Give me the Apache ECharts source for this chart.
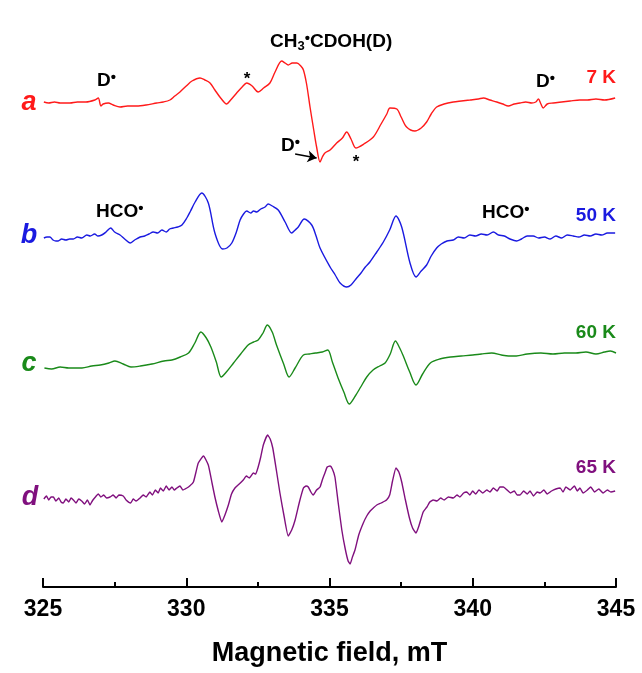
<!DOCTYPE html>
<html>
<head>
<meta charset="utf-8">
<script src="https://cdn.jsdelivr.net/npm/echarts@6/dist/echarts.min.js"></script>
<style>
  html, body { margin: 0; padding: 0; background: #fff; }
  #chart { width: 642px; height: 673px; }
</style>
</head>
<body>
<div id="chart"></div>
<script>
// spectra: [field mT, signal (arb. units, 1 = 1px)]
var trace7K = [
  [325.03,0],[325.2,-1],[325.4,0],[325.6,-1],[325.94,-1],[326.2,0],[326.5,0],[326.81,2],[326.93,4],[327.02,-4],
  [327.1,-2],[327.28,-1],[327.45,-3],[327.69,-5],[327.95,-4],[328.27,-4],[328.6,-3],[328.97,-1],[329.2,0],[329.43,2],
  [329.6,6],[329.78,10],[330.0,16],[330.2,21],[330.48,24],[330.65,22],[330.83,19],[331.0,12],[331.2,4],[331.41,-2],
  [331.55,2],[331.76,9],[331.95,15],[332.11,19],[332.3,16],[332.51,10],[332.7,14],[332.92,19],[333.1,30],[333.33,41],
  [333.45,39],[333.56,37],[333.7,39],[333.86,39],[334.0,36],[334.09,32],[334.2,18],[334.32,-5],[334.45,-28],[334.55,-45],
  [334.67,-60],[334.75,-55],[334.84,-51],[335.02,-48],[335.25,-41],[335.45,-36],[335.6,-30],[335.75,-37],[335.92,-46],[336.2,-42],
  [336.53,-35],[336.8,-22],[337.0,-12],[337.11,-6],[337.35,-7],[337.5,-15],[337.69,-25],[337.98,-29],[338.2,-26],[338.39,-20],
  [338.55,-12],[338.74,-5],[339.0,-2],[339.32,0],[339.6,1],[339.9,2],[340.2,3],[340.37,4],[340.6,2],[340.84,0],
  [341.05,-2],[341.24,-4],[341.45,-2],[341.65,-1],[341.85,0],[342.06,-1],[342.2,0],[342.29,3],[342.38,-2],[342.46,-6],
  [342.6,-2],[342.81,-1],[343.1,0],[343.4,1],[343.74,2],[344.0,2],[344.3,3],[344.6,2],[344.97,4]
];
var trace50K = [
  [325.03,0],[325.14,1],[325.24,1],[325.35,-2],[325.45,-3],[325.53,-3],[325.65,-1],[325.8,-2],[325.93,-1],[326.06,-1],
  [326.2,1],[326.35,0],[326.53,3],[326.65,2],[326.8,4],[326.92,2],[327.05,3],[327.2,6],[327.36,10],[327.5,6],
  [327.69,3],[327.85,-1],[328.04,-5],[328.2,-2],[328.39,1],[328.55,2],[328.7,4],[328.85,6],[329.0,5],[329.15,8],
  [329.3,6],[329.42,9],[329.55,10],[329.7,11],[329.85,13],[330.02,20],[330.15,27],[330.31,36],[330.54,45],[330.77,35],
  [331.0,5],[331.27,-11],[331.42,-10],[331.59,-5],[331.75,6],[331.88,18],[332.0,24],[332.11,27],[332.25,25],[332.35,27],
  [332.46,26],[332.6,29],[332.75,31],[332.86,34],[333.0,32],[333.21,28],[333.45,16],[333.68,5],[333.8,8],[333.91,11],
  [334.12,19],[334.38,13],[334.52,3],[334.67,-10],[335.02,-29],[335.2,-37],[335.37,-45],[335.6,-49],[335.75,-47],[335.95,-40],
  [336.1,-35],[336.25,-29],[336.41,-24],[336.65,-14],[336.88,-4],[337.1,8],[337.32,22],[337.52,11],[337.81,-25],[338.02,-39],
  [338.2,-33],[338.39,-27],[338.55,-18],[338.74,-10],[338.9,-6],[339.1,-3],[339.32,-2],[339.5,1],[339.7,0],[339.9,3],
  [340.1,2],[340.3,4],[340.5,3],[340.72,6],[340.9,3],[341.1,2],[341.3,-1],[341.53,-3],[341.7,-1],[341.9,2],
  [342.11,2],[342.3,0],[342.5,1],[342.7,-1],[342.9,2],[343.1,0],[343.3,3],[343.51,2],[343.7,1],[343.9,3],
  [344.1,2],[344.3,4],[344.5,3],[344.7,5],[344.97,5]
];
var trace60K = [
  [325.05,0],[325.3,-1],[325.6,1],[325.9,0],[326.36,0],[326.7,2],[327.0,3],[327.3,5],[327.51,7],[327.8,4],
  [328.07,1],[328.4,2],[328.8,4],[329.22,7],[329.5,8],[329.79,11],[330.08,15],[330.3,25],[330.51,36],[330.7,30],
  [330.86,21],[331.05,6],[331.22,-9],[331.4,-4],[331.65,5],[331.9,14],[332.16,23],[332.35,26],[332.51,28],[332.68,35],
  [332.83,43],[333.0,36],[333.15,23],[333.4,4],[333.59,-9],[333.8,0],[334.09,13],[334.3,14],[334.51,15],[334.75,16],
  [334.94,18],[335.1,6],[335.3,-10],[335.5,-24],[335.69,-36],[335.9,-28],[336.09,-19],[336.3,-9],[336.52,-2],[336.75,2],
  [336.94,5],[337.12,14],[337.3,27],[337.45,20],[337.59,11],[337.8,-4],[338.02,-17],[338.25,-6],[338.52,5],[338.85,9],
  [339.23,11],[339.6,12],[340.0,13],[340.3,14],[340.66,15],[341.0,13],[341.25,12],[341.52,12],[341.9,14],[342.38,15],
  [342.8,14],[343.2,15],[343.6,15],[343.95,16],[344.3,14],[344.6,16],[344.8,17],[345.0,15]
];
var trace65K = [
  [325.03,0],[325.12,3],[325.2,-1],[325.28,2],[325.36,2],[325.45,-2],[325.55,1],[325.63,-3],[325.71,-4],[325.8,0],
  [325.9,-3],[325.98,1],[326.06,-1],[326.15,-4],[326.25,0],[326.35,-2],[326.45,-5],[326.55,-1],[326.64,-6],[326.72,-2],
  [326.8,1],[326.93,5],[327.02,2],[327.12,4],[327.22,1],[327.34,2],[327.45,4],[327.55,1],[327.65,4],[327.8,3],
  [327.9,-1],[328.06,-4],[328.15,0],[328.25,-2],[328.39,1],[328.5,4],[328.6,2],[328.73,7],[328.82,4],[328.92,9],
  [329.02,6],[329.1,11],[329.2,8],[329.3,13],[329.4,9],[329.5,12],[329.58,9],[329.67,11],[329.78,13],[329.88,9],
  [330.02,11],[330.12,13],[330.25,17],[330.34,27],[330.42,36],[330.6,43],[330.77,34],[330.9,16],[331.0,2],[331.12,-12],
  [331.24,-23],[331.35,-16],[331.47,-6],[331.58,5],[331.7,11],[331.85,15],[331.99,19],[332.1,23],[332.2,21],[332.34,26],
  [332.42,25],[332.51,32],[332.6,42],[332.69,54],[332.84,64],[332.93,60],[333.02,51],[333.15,28],[333.27,6],[333.42,-18],
  [333.56,-37],[333.68,-31],[333.8,-21],[333.95,-3],[334.09,11],[334.18,13],[334.26,12],[334.35,7],[334.43,4],[334.55,9],
  [334.67,12],[334.76,20],[334.84,26],[334.92,32],[335.02,33],[335.1,30],[335.19,22],[335.3,-3],[335.43,-31],[335.55,-50],
  [335.65,-62],[335.72,-65],[335.8,-58],[335.89,-51],[336.02,-36],[336.18,-24],[336.3,-17],[336.42,-12],[336.53,-9],[336.65,-6],
  [336.8,-4],[336.99,-1],[337.1,4],[337.2,18],[337.32,31],[337.42,27],[337.52,17],[337.65,-1],[337.79,-19],[337.9,-29],
  [338.02,-34],[338.12,-27],[338.27,-13],[338.4,-8],[338.5,-3],[338.62,-1],[338.75,-2],[338.88,1],[339.0,-1],[339.15,2],
  [339.32,1],[339.45,4],[339.55,2],[339.68,6],[339.79,7],[339.9,4],[340.0,8],[340.1,5],[340.22,9],[340.35,6],
  [340.49,9],[340.6,7],[340.72,11],[340.85,8],[340.95,12],[341.07,12],[341.2,9],[341.32,6],[341.45,8],[341.55,4],
  [341.65,4],[341.78,8],[341.9,5],[342.0,8],[342.12,3],[342.25,7],[342.35,6],[342.48,9],[342.6,5],[342.75,8],
  [342.9,10],[343.05,11],[343.15,7],[343.25,12],[343.4,9],[343.55,13],[343.65,8],[343.74,11],[343.85,6],[344.0,9],
  [344.12,12],[344.25,7],[344.4,10],[344.55,6],[344.7,9],[344.82,7],[344.97,8]
];

var traces = [trace7K, trace50K, trace60K, trace65K];
var traceNames = ['a', 'b', 'c', 'd'];
var tempLabels = ['7 K', '50 K', '60 K', '65 K'];
var offsets = [485, 349, 219, 88];          // vertical stacking of the spectra
var colors = ['#ff1a1a', '#1a1ae0', '#1a8a1a', '#80107e'];
var xTicks = { min: 325, max: 345, step: 5 };
// D• arrow on trace a, from/to [field, signal]
var arrowFrom = [333.80, -52];
var arrowTo = [334.55, -56];

var FONT = '"Liberation Sans", Arial, sans-serif';
var chart = echarts.init(document.getElementById('chart'));

function shift(arr, off) {
  return arr.map(function (p) { return [p[0], p[1] + off]; });
}

var series = traces.map(function (t, i) {
  var s = {
    name: tempLabels[i],
    type: 'line',
    data: shift(t, offsets[i]),
    showSymbol: false,
    smooth: i === 3 ? 0.15 : 0.3,
    lineStyle: { color: colors[i], width: 1.4 },
    itemStyle: { color: colors[i] },
    silent: true
  };
  if (i === 0) {
    s.markLine = {
      silent: true,
      symbol: ['none', 'arrow'],
      symbolSize: 9,
      label: { show: false },
      lineStyle: { color: '#000', width: 1.5, type: 'solid' },
      data: [[
        { coord: [arrowFrom[0], arrowFrom[1] + offsets[0]] },
        { coord: [arrowTo[0], arrowTo[1] + offsets[0]] }
      ]]
    };
  }
  return s;
});

function txt(x, y, text, opt) {
  var st = {
    text: text,
    fill: opt.color || '#000',
    font: opt.font,
    align: opt.align || 'left',
    textAlign: opt.align || 'left',
    verticalAlign: 'middle',
    textVerticalAlign: 'middle'
  };
  if (opt.rich) st.rich = opt.rich;
  return { type: 'text', x: x, y: y, silent: true, style: st };
}

var radRich = {
  m: { fontSize: 19, fontWeight: 'bold', fontFamily: FONT, color: '#000', lineHeight: 22 },
  s: { fontSize: 15, fontWeight: 'bold', fontFamily: FONT, color: '#000', lineHeight: 15, verticalAlign: 'top' },
  sub: { fontSize: 13, fontWeight: 'bold', fontFamily: FONT, color: '#000', lineHeight: 13, verticalAlign: 'bottom' }
};
var bold19 = 'bold 19px ' + FONT;
var labelFont = 'italic bold 27px ' + FONT;
var tempFont = 'bold 19px ' + FONT;

var graphics = [
  txt(29, 103, traceNames[0], { font: labelFont, color: colors[0], align: 'center' }),
  txt(29, 236, traceNames[1], { font: labelFont, color: colors[1], align: 'center' }),
  txt(29, 364, traceNames[2], { font: labelFont, color: colors[2], align: 'center' }),
  txt(30, 498, traceNames[3], { font: labelFont, color: colors[3], align: 'center' }),
  txt(616, 78, tempLabels[0], { font: tempFont, color: colors[0], align: 'right' }),
  txt(616, 216, tempLabels[1], { font: tempFont, color: colors[1], align: 'right' }),
  txt(616, 333, tempLabels[2], { font: tempFont, color: colors[2], align: 'right' }),
  txt(616, 468, tempLabels[3], { font: tempFont, color: colors[3], align: 'right' }),
  txt(97, 81, '{m|D}{s|•}', { font: bold19, rich: radRich }),
  txt(281, 146, '{m|D}{s|•}', { font: bold19, rich: radRich }),
  txt(536, 82, '{m|D}{s|•}', { font: bold19, rich: radRich }),
  txt(96, 212, '{m|HCO}{s|•}', { font: bold19, rich: radRich }),
  txt(482, 213, '{m|HCO}{s|•}', { font: bold19, rich: radRich }),
  txt(270, 42, '{m|CH}{sub|3}{s|•}{m|CDOH(D)}', { font: bold19, rich: radRich }),
  txt(247, 79, '*', { font: 'bold 17px ' + FONT, align: 'center' }),
  txt(356, 162, '*', { font: 'bold 17px ' + FONT, align: 'center' })
];

var option = {
  backgroundColor: '#ffffff',
  animation: false,
  grid: { left: 43, right: 26, top: 0, bottom: 86, containLabel: false },
  xAxis: {
    type: 'value',
    min: xTicks.min,
    max: xTicks.max,
    interval: xTicks.step,
    name: 'Magnetic field, mT',
    nameLocation: 'middle',
    nameGap: 53,
    nameTextStyle: { fontSize: 27, fontWeight: 'bold', color: '#000', fontFamily: FONT },
    axisLine: { lineStyle: { color: '#000', width: 2 } },
    axisTick: { inside: true, length: 9, lineStyle: { color: '#000', width: 2 } },
    minorTick: { show: true, splitNumber: 2, length: 5, lineStyle: { color: '#000', width: 2 } },
    splitLine: { show: false },
    axisLabel: { fontSize: 23, fontWeight: 'bold', color: '#000', margin: 11, fontFamily: FONT }
  },
  yAxis: { type: 'value', min: 0, max: 587, show: false },
  series: series,
  graphic: graphics
};

chart.setOption(option);
</script>
</body>
</html>
